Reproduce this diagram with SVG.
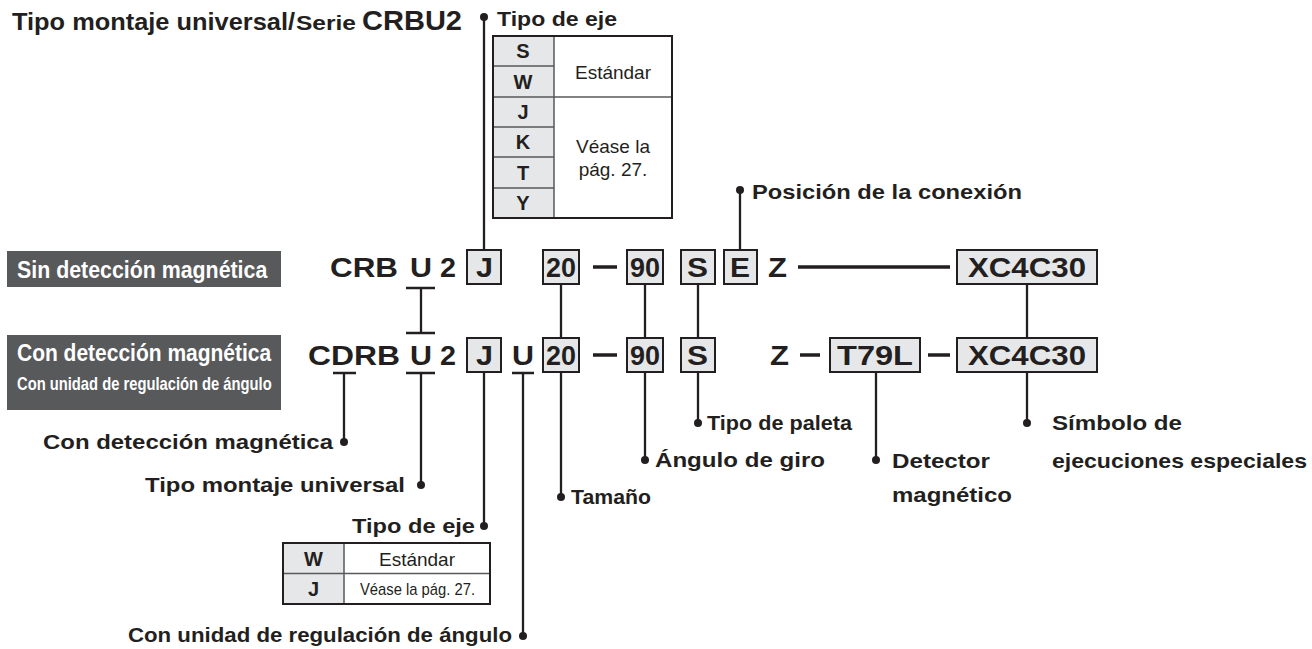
<svg xmlns="http://www.w3.org/2000/svg" width="1312" height="649" viewBox="0 0 1312 649">
<style>
text{font-family:"Liberation Sans",Arial,Helvetica,sans-serif;fill:#231f20}
.b{font-weight:bold}
.code{font-weight:bold;font-size:27px}
.lbl{font-weight:bold;font-size:21px}
.box{fill:#e6e7e8;stroke:#231f20;stroke-width:2}
.dark{fill:#58595b}
.wt{fill:#ffffff}
.ln{stroke:#231f20;stroke-width:2.3;fill:none}
.dash{stroke:#231f20;stroke-width:3.5;fill:none}
.dot{fill:#231f20}
.tb{fill:#ffffff}
.tbo{fill:none;stroke:#231f20;stroke-width:2}
.sh{fill:#e6e7e8}
.il{stroke:#58595b;stroke-width:1.5;fill:none}
.tc{font-weight:bold;font-size:20px;text-anchor:middle}
.tr{font-size:19px;text-anchor:middle}
</style>

<g id="title">
<text x="12" y="30" class="b" font-size="23" textLength="283" lengthAdjust="spacingAndGlyphs">Tipo montaje universal/</text>
<text x="296" y="30" class="b" font-size="21" textLength="60" lengthAdjust="spacingAndGlyphs">Serie</text>
<text x="362" y="30" class="b" font-size="28" textLength="100" lengthAdjust="spacingAndGlyphs">CRBU2</text>
</g>

<g id="tipo-eje-top">
<text x="497" y="26" class="lbl" textLength="120" lengthAdjust="spacingAndGlyphs">Tipo de eje</text>
<rect x="493" y="36" width="179" height="182" class="tb"/>
<rect x="493" y="36" width="61" height="182" class="sh"/>
<path class="il" d="M493 66H554M493 97H672M493 127H554M493 157H554M493 188H554M554 36V218"/>
<rect x="493" y="36" width="179" height="182" class="tbo"/>
<text x="523" y="58" class="tc">S</text>
<text x="523" y="89" class="tc">W</text>
<text x="523" y="119" class="tc">J</text>
<text x="523" y="149" class="tc">K</text>
<text x="523" y="180" class="tc">T</text>
<text x="523" y="210" class="tc">Y</text>
<text x="613" y="79" class="tr">Estándar</text>
<text x="613" y="153" class="tr">Véase la</text>
<text x="613" y="176" class="tr">pág. 27.</text>
</g>

<g id="sin-deteccion">
<rect x="7" y="251" width="274" height="36" class="dark"/>
<text transform="translate(17,278) scale(0.89,1)" class="b wt" font-size="24">Sin detección magnética</text>
</g>

<g id="con-deteccion">
<rect x="7" y="335" width="274" height="75" class="dark"/>
<text transform="translate(17,361) scale(0.875,1)" class="b wt" font-size="24">Con detección magnética</text>
<text transform="translate(17,390) scale(0.82,1)" class="b wt" font-size="18">Con unidad de regulación de ángulo</text>
</g>

<g id="row1">
<g id="r1-crb"><text x="330" y="277" class="code" textLength="68" lengthAdjust="spacingAndGlyphs">CRB</text></g>
<g id="r1-u"><text x="410" y="277" class="code" textLength="22" lengthAdjust="spacingAndGlyphs">U</text></g>
<g id="r1-2"><text x="440" y="277" class="code" textLength="16" lengthAdjust="spacingAndGlyphs">2</text></g>
<g id="r1-j"><rect x="467" y="250" width="34" height="34" class="box"/><text x="476" y="277" class="code" textLength="17" lengthAdjust="spacingAndGlyphs">J</text></g>
<g id="r1-20"><rect x="543" y="250" width="36" height="34" class="box"/><text x="546" y="277" class="code" textLength="30" lengthAdjust="spacingAndGlyphs">20</text></g>
<g id="r1-90"><rect x="627" y="250" width="36" height="34" class="box"/><text x="630" y="277" class="code" textLength="30" lengthAdjust="spacingAndGlyphs">90</text></g>
<g id="r1-s"><rect x="681" y="250" width="34" height="34" class="box"/><text x="687" y="277" class="code" textLength="21" lengthAdjust="spacingAndGlyphs">S</text></g>
<g id="r1-e"><rect x="724" y="250" width="33" height="34" class="box"/><text x="730" y="277" class="code" textLength="20" lengthAdjust="spacingAndGlyphs">E</text></g>
<g id="r1-z"><text x="768" y="277" class="code" textLength="19" lengthAdjust="spacingAndGlyphs">Z</text></g>
<g id="r1-xc"><rect x="957" y="250" width="140" height="34" class="box"/><text x="968" y="277" class="code" textLength="118" lengthAdjust="spacingAndGlyphs">XC4C30</text></g>
</g>

<g id="row2">
<g id="r2-cdrb"><text x="308" y="365" class="code" textLength="92" lengthAdjust="spacingAndGlyphs">CDRB</text></g>
<g id="r2-u"><text x="410" y="365" class="code" textLength="22" lengthAdjust="spacingAndGlyphs">U</text></g>
<g id="r2-2"><text x="440" y="365" class="code" textLength="16" lengthAdjust="spacingAndGlyphs">2</text></g>
<g id="r2-j"><rect x="467" y="338" width="34" height="34" class="box"/><text x="476" y="365" class="code" textLength="17" lengthAdjust="spacingAndGlyphs">J</text></g>
<g id="r2-u2"><text x="512" y="365" class="code" textLength="22" lengthAdjust="spacingAndGlyphs">U</text></g>
<g id="r2-20"><rect x="543" y="338" width="36" height="34" class="box"/><text x="546" y="365" class="code" textLength="30" lengthAdjust="spacingAndGlyphs">20</text></g>
<g id="r2-90"><rect x="627" y="338" width="36" height="34" class="box"/><text x="630" y="365" class="code" textLength="30" lengthAdjust="spacingAndGlyphs">90</text></g>
<g id="r2-s"><rect x="681" y="338" width="34" height="34" class="box"/><text x="687" y="365" class="code" textLength="21" lengthAdjust="spacingAndGlyphs">S</text></g>
<g id="r2-z"><text x="770" y="365" class="code" textLength="19" lengthAdjust="spacingAndGlyphs">Z</text></g>
<g id="r2-t79l"><rect x="830" y="338" width="90" height="34" class="box"/><text x="837" y="365" class="code" textLength="76" lengthAdjust="spacingAndGlyphs">T79L</text></g>
<g id="r2-xc"><rect x="957" y="338" width="140" height="34" class="box"/><text x="968" y="365" class="code" textLength="118" lengthAdjust="spacingAndGlyphs">XC4C30</text></g>
</g>

<g id="posicion"><text x="752" y="199" class="lbl" textLength="270" lengthAdjust="spacingAndGlyphs">Posición de la conexión</text></g>
<g id="lbl-deteccion"><text x="43" y="449" class="lbl" textLength="290" lengthAdjust="spacingAndGlyphs">Con detección magnética</text></g>
<g id="lbl-montaje"><text x="145" y="492" class="lbl" textLength="260" lengthAdjust="spacingAndGlyphs">Tipo montaje universal</text></g>
<g id="tipo-eje-bottom">
<text x="352" y="533" class="lbl" textLength="123" lengthAdjust="spacingAndGlyphs">Tipo de eje</text>
<rect x="283" y="543" width="207" height="61" class="tb"/>
<rect x="283" y="543" width="61" height="61" class="sh"/>
<path class="il" d="M283 573.5H490M344 543V604"/>
<rect x="283" y="543" width="207" height="61" class="tbo"/>
<text x="313.5" y="566" class="tc">W</text>
<text x="313.5" y="596" class="tc">J</text>
<text x="417" y="566" class="tr" font-size="18">Estándar</text>
<text x="360" y="595" font-size="17" textLength="115" lengthAdjust="spacingAndGlyphs">Véase la pág. 27.</text>
</g>
<g id="lbl-unidad"><text x="128" y="642" class="lbl" textLength="384" lengthAdjust="spacingAndGlyphs">Con unidad de regulación de ángulo</text></g>
<g id="lbl-tamano"><text x="571" y="504" class="lbl" textLength="80" lengthAdjust="spacingAndGlyphs">Tamaño</text></g>
<g id="lbl-angulo"><text x="655" y="467" class="lbl" textLength="170" lengthAdjust="spacingAndGlyphs">Ángulo de giro</text></g>
<g id="lbl-paleta"><text x="707" y="430" class="lbl" textLength="145" lengthAdjust="spacingAndGlyphs">Tipo de paleta</text></g>
<g id="lbl-detector">
<text x="892" y="468" class="lbl" textLength="98" lengthAdjust="spacingAndGlyphs">Detector</text>
<text x="892" y="502" class="lbl" textLength="120" lengthAdjust="spacingAndGlyphs">magnético</text>
</g>
<g id="lbl-simbolo">
<text x="1052" y="430" class="lbl" textLength="130" lengthAdjust="spacingAndGlyphs">Símbolo de</text>
<text x="1052" y="468" class="lbl" textLength="255" lengthAdjust="spacingAndGlyphs">ejecuciones especiales</text>
</g>

<g id="connectors">
<path class="ln" d="M484 17V250"/>
<circle class="dot" cx="484" cy="17" r="4"/>
<path class="ln" d="M740 190V250"/>
<circle class="dot" cx="740" cy="190" r="4"/>
<path class="ln" d="M406 288H435M421 288V333M406 333H435"/>
<path class="ln" d="M561 284V338M645 284V338M698 284V338M1027 284V338"/>
<path class="dash" d="M593 267H617M798 267H950M593 355H617M800 355H820M928 355H950"/>
<path class="ln" d="M333 373H356M344 373V442"/>
<circle class="dot" cx="344" cy="442" r="4"/>
<path class="ln" d="M406 373H435M421 373V485"/>
<circle class="dot" cx="421" cy="485" r="4"/>
<path class="ln" d="M484 372V526"/>
<circle class="dot" cx="484" cy="526" r="4"/>
<path class="ln" d="M512 373H534M523 373V636"/>
<circle class="dot" cx="523" cy="636" r="4"/>
<path class="ln" d="M561 372V497"/>
<circle class="dot" cx="561" cy="497" r="4"/>
<path class="ln" d="M645 372V460"/>
<circle class="dot" cx="645" cy="460" r="4"/>
<path class="ln" d="M698 372V423"/>
<circle class="dot" cx="698" cy="423" r="4"/>
<path class="ln" d="M876 372V460"/>
<circle class="dot" cx="876" cy="460" r="4"/>
<path class="ln" d="M1027 372V423"/>
<circle class="dot" cx="1027" cy="423" r="4"/>
</g>
</svg>
